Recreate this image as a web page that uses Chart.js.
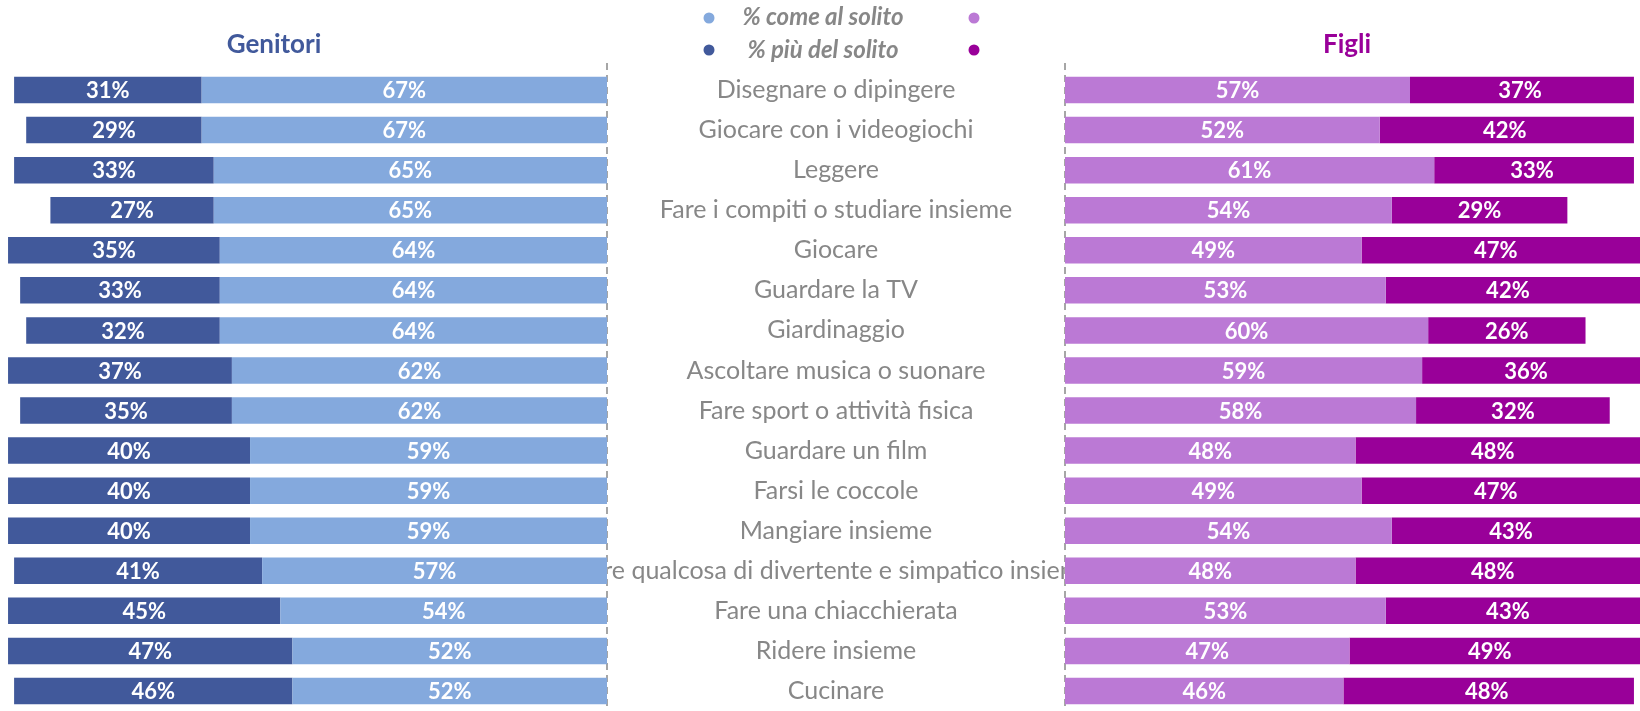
<!DOCTYPE html>
<html>
<head>
<meta charset="utf-8">
<script src="https://cdn.jsdelivr.net/npm/chart.js@4/dist/chart.umd.min.js"></script>
<style>
  html, body { margin: 0; padding: 0; background: #fff; }
  #wrap { position: relative; width: 1640px; height: 711px; }
  canvas { position: absolute; left: 0; top: 0; }
</style>
</head>
<body>
<div id="wrap">
  <canvas id="leftChart" width="1640" height="711"></canvas>
  <canvas id="rightChart" width="1640" height="711"></canvas>
</div>
<script>
// Data
const activities = [
    'Disegnare o dipingere',
    'Giocare con i videogiochi',
    'Leggere',
    'Fare i compiti o studiare insieme',
    'Giocare',
    'Guardare la TV',
    'Giardinaggio',
    'Ascoltare musica o suonare',
    'Fare sport o attività fisica',
    'Guardare un film',
    'Farsi le coccole',
    'Mangiare insieme',
    'Fare qualcosa di divertente e simpatico insieme',
    'Fare una chiacchierata',
    'Ridere insieme',
    'Cucinare'
];
const genitoriCome = [67, 67, 65, 65, 64, 64, 64, 62, 62, 59, 59, 59, 57, 54, 52, 52];
const genitoriPiu  = [31, 29, 33, 27, 35, 33, 32, 37, 35, 40, 40, 40, 41, 45, 47, 46];
const figliCome    = [57, 52, 61, 54, 49, 53, 60, 59, 58, 48, 49, 54, 48, 53, 47, 46];
const figliPiu     = [37, 42, 33, 29, 47, 42, 26, 36, 32, 48, 47, 43, 48, 43, 49, 48];
const legendLabels = ['% come al solito', '% più del solito'];

const colors = {
    genCome: '#84a9dd',
    genPiu: '#41599b',
    figCome: '#bb79d5',
    figPiu: '#990099',
    text: '#878787'
};

const LEFT_ZERO = 607;
const RIGHT_ZERO = 1065;
const CANVAS_W = 1640;

// White percentage labels in the middle of each bar
const barLabels = {
    id: 'barLabels',
    afterDatasetsDraw(chart) {
        const ctx = chart.ctx;
        const area = chart.chartArea;
        ctx.save();
        ctx.fillStyle = '#fff';
        ctx.font = 'bold 22px Lato';
        ctx.textAlign = 'center';
        ctx.textBaseline = 'middle';
        chart.data.datasets.forEach((ds, di) => {
            chart.getDatasetMeta(di).data.forEach((bar, i) => {
                const x1 = Math.max(Math.min(bar.x, bar.base), area.left);
                const x2 = Math.min(Math.max(bar.x, bar.base), CANVAS_W - 10);
                ctx.fillText(ds.data[i] + '%', (x1 + x2) / 2, bar.y + 1);
            });
        });
        ctx.restore();
    }
};

// Dashed separator at the zero line
function dashedLine(x) {
    return {
        id: 'dashed',
        beforeDatasetsDraw(chart) {
            const ctx = chart.ctx;
            ctx.save();
            ctx.strokeStyle = '#a6a6a6';
            ctx.lineWidth = 2;
            ctx.setLineDash([7, 5]);
            ctx.beginPath();
            ctx.moveTo(x, 63);
            ctx.lineTo(x, 711);
            ctx.stroke();
            ctx.restore();
        }
    };
}

// Category names, titles and legend
const decor = {
    id: 'decor',
    afterDraw(chart) {
        const ctx = chart.ctx;
        const y = chart.scales.y;
        ctx.save();
        ctx.beginPath();
        ctx.rect(LEFT_ZERO + 1, 60, RIGHT_ZERO - LEFT_ZERO - 2, 651);
        ctx.clip();
        ctx.fillStyle = colors.text;
        ctx.font = '25px Lato';
        ctx.textAlign = 'center';
        ctx.textBaseline = 'middle';
        activities.forEach((name, i) => {
            ctx.fillText(name, (LEFT_ZERO + RIGHT_ZERO) / 2, y.getPixelForValue(i));
        });
        ctx.restore();

        ctx.save();
        ctx.textAlign = 'center';
        ctx.textBaseline = 'middle';
        ctx.font = 'bold 26px Lato';
        ctx.fillStyle = colors.genPiu;
        ctx.fillText('Genitori', 274, 45);
        ctx.fillStyle = colors.figPiu;
        ctx.fillText('Figli', 1347, 45);

        ctx.font = 'italic bold 24px Lato';
        ctx.fillStyle = colors.text;
        ctx.fillText(legendLabels[0], 823, 17);
        ctx.fillText(legendLabels[1], 823, 50);
        const dots = [
            [709, 18, colors.genCome], [974, 18, colors.figCome],
            [709, 50, colors.genPiu], [974, 50, colors.figPiu]
        ];
        dots.forEach(([dx, dy, c]) => {
            ctx.fillStyle = c;
            ctx.beginPath();
            ctx.arc(dx, dy, 5.5, 0, Math.PI * 2);
            ctx.fill();
        });
        ctx.restore();
    }
};

function baseOptions(reverse, max, padding) {
    return {
        indexAxis: 'y',
        responsive: false,
        animation: false,
        devicePixelRatio: 1,
        layout: { padding: padding },
        plugins: { legend: { display: false }, tooltip: { enabled: false } },
        scales: {
            x: { stacked: true, reverse: reverse, min: 0, max: max, display: false },
            y: { stacked: true, display: false }
        }
    };
}

new Chart(document.getElementById('leftChart').getContext('2d'), {
    type: 'bar',
    data: {
        labels: activities,
        datasets: [
            { label: legendLabels[0], data: genitoriCome, backgroundColor: colors.genCome,
              barPercentage: 0.66, categoryPercentage: 1 },
            { label: legendLabels[1], data: genitoriPiu, backgroundColor: colors.genPiu,
              barPercentage: 0.66, categoryPercentage: 1 }
        ]
    },
    options: baseOptions(true, 100, { left: 2, right: CANVAS_W - LEFT_ZERO, top: 70, bottom: 0 }),
    plugins: [dashedLine(LEFT_ZERO), barLabels]
});

new Chart(document.getElementById('rightChart').getContext('2d'), {
    type: 'bar',
    data: {
        labels: activities,
        datasets: [
            { label: legendLabels[0], data: figliCome, backgroundColor: colors.figCome,
              barPercentage: 0.66, categoryPercentage: 1 },
            { label: legendLabels[1], data: figliPiu, backgroundColor: colors.figPiu,
              barPercentage: 0.66, categoryPercentage: 1 }
        ]
    },
    options: baseOptions(false, 95, { left: RIGHT_ZERO, right: 0, top: 70, bottom: 0 }),
    plugins: [dashedLine(RIGHT_ZERO), barLabels, decor]
});
</script>
</body>
</html>
